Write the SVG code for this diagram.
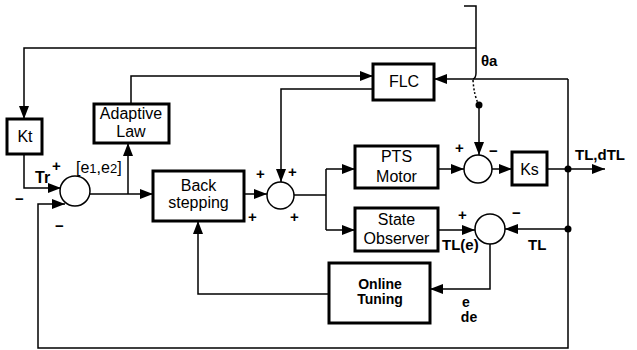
<svg xmlns="http://www.w3.org/2000/svg" width="637" height="350" viewBox="0 0 637 350">
<style>
.box{fill:#fff;stroke:#000;stroke-width:3}
.sum{fill:#fff;stroke:#000;stroke-width:1.5}
.ln{fill:none;stroke:#000;stroke-width:1.5}
.t{font-family:"Liberation Sans",Arial,sans-serif;font-size:16px;text-anchor:middle;fill:#000}
.b{font-family:"Liberation Sans",Arial,sans-serif;font-weight:bold;font-size:15px;fill:#000}
.s{font-family:"Liberation Sans",Arial,sans-serif;font-weight:bold;font-size:14px;text-anchor:middle;fill:#000}
.e{font-family:"Liberation Sans",Arial,sans-serif;font-size:16px;fill:#000}
</style>
<defs>
<marker id="ar" markerUnits="userSpaceOnUse" markerWidth="13" markerHeight="10" refX="13" refY="5" orient="auto">
<path d="M0,0 L13,5 L0,10 z" fill="#000"/>
</marker>
</defs>
<rect width="637" height="350" fill="#fff"/>
<g id="connectors">
<path class="ln" d="M464,6 H476 V73 Q476,78 473,79"/>
<path class="ln" d="M476,48 H24 V119" marker-end="url(#ar)"/>
<path class="ln" d="M473,80 Q474,96 479,105" stroke-dasharray="2,2"/>
<circle cx="479" cy="105" r="3.5" fill="#000"/>
<path class="ln" d="M479,105 V155" marker-end="url(#ar)"/>
<path class="ln" d="M24,154 V188 H61" marker-end="url(#ar)"/>
<path class="ln" d="M568,79 V348 H38 V204 H65" marker-end="url(#ar)"/>
<path class="ln" d="M90,194 H153" marker-end="url(#ar)"/>
<path class="ln" d="M128,194 V143" marker-end="url(#ar)"/>
<path class="ln" d="M131,104 V76 H373" marker-end="url(#ar)"/>
<path class="ln" d="M373,89 H281 V182" marker-end="url(#ar)"/>
<path class="ln" d="M244,194 H267" marker-end="url(#ar)"/>
<path class="ln" d="M294,195 H326 M326,169 V230"/>
<path class="ln" d="M326,169 H355" marker-end="url(#ar)"/>
<path class="ln" d="M326,230 H355" marker-end="url(#ar)"/>
<path class="ln" d="M438,169 H464" marker-end="url(#ar)"/>
<path class="ln" d="M492,169 H512" marker-end="url(#ar)"/>
<path class="ln" d="M547,169 H605" marker-end="url(#ar)"/>
<path class="ln" d="M568,79 H434" marker-end="url(#ar)"/>
<circle cx="568" cy="169" r="3.5" fill="#000"/>
<circle cx="568" cy="229" r="3.5" fill="#000"/>
<path class="ln" d="M438,230 H475" marker-end="url(#ar)"/>
<path class="ln" d="M568,229 H505" marker-end="url(#ar)"/>
<path class="ln" d="M490,244 V289 H430" marker-end="url(#ar)"/>
<path class="ln" d="M329,294 H198 V221" marker-end="url(#ar)"/>
</g>
<g id="kt"><rect class="box" x="7" y="119" width="35" height="35"/><text class="t" x="25" y="142">Kt</text></g>
<g id="sum1"><circle class="sum" cx="75" cy="191" r="15"/></g>
<g id="adaptive"><rect class="box" x="94" y="104" width="75" height="39"/><text class="t" x="131" y="119">Adaptive</text><text class="t" x="131" y="137">Law</text></g>
<g id="flc"><rect class="box" x="373" y="64" width="61" height="36"/><text class="t" x="404" y="87">FLC</text></g>
<g id="backstepping"><rect class="box" x="153" y="171" width="91" height="50"/><text class="t" x="198.5" y="191">Back</text><text class="t" x="198.5" y="208">stepping</text></g>
<g id="sum2"><circle class="sum" cx="280.5" cy="195.5" r="13.5"/></g>
<g id="pts"><rect class="box" x="355" y="146" width="83" height="42"/><text class="t" x="396.5" y="162">PTS</text><text class="t" x="396.5" y="182">Motor</text></g>
<g id="observer"><rect class="box" x="355" y="208" width="83" height="43"/><text class="t" x="396.5" y="225">State</text><text class="t" x="396.5" y="244">Observer</text></g>
<g id="sum3"><circle class="sum" cx="478" cy="169" r="14"/></g>
<g id="ks"><rect class="box" x="512" y="152" width="35" height="33"/><text class="t" x="529.5" y="175">Ks</text></g>
<g id="sum4"><circle class="sum" cx="490" cy="229" r="15"/></g>
<g id="tuning"><rect class="box" x="329" y="263" width="101" height="60"/><text class="s" x="380" y="289">Online</text><text class="s" x="380" y="304">Tuning</text></g>
<g id="labels">
<text class="b" x="35" y="183" style="font-size:16px">Tr</text>
<text class="b" x="52" y="171">+</text>
<text class="b" x="15" y="204">−</text>
<text class="b" x="55" y="231">−</text>
<text class="e" x="76" y="173">[e<tspan style="font-size:13px">1</tspan>,e<tspan style="font-size:13px">2</tspan>]</text>
<text class="b" x="256" y="179">+</text>
<text class="b" x="288" y="177">+</text>
<text class="b" x="248" y="222">+</text>
<text class="b" x="290" y="222">+</text>
<text class="b" x="455" y="153">+</text>
<text class="b" x="489" y="156">−</text>
<text class="b" x="481" y="66">θa</text>
<text class="b" x="575" y="160">TL,dTL</text>
<text class="b" x="458" y="220">+</text>
<text class="b" x="512" y="218">−</text>
<text class="b" x="442" y="250">TL(e)</text>
<text class="b" x="528" y="250">TL</text>
<text class="s" x="466" y="307">e</text>
<text class="s" x="469" y="322">de</text>
</g>
</svg>
